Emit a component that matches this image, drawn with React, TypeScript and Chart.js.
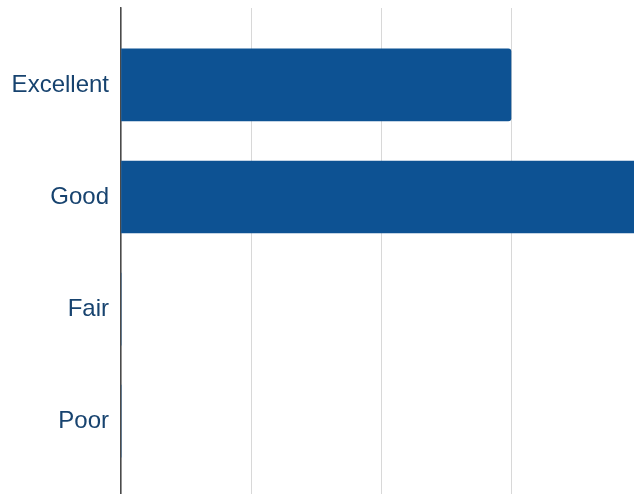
import React, { useEffect, useRef } from "react";
import { Chart, registerables } from "chart.js";

Chart.register(...registerables);

const categories: string[] = ["Excellent", "Good", "Fair", "Poor"];
const values: number[] = [3, 4, 0, 0];
const xTicks: number[] = [0, 1, 2, 3, 4];

export default function App() {
  const ref = useRef<HTMLCanvasElement | null>(null);

  useEffect(() => {
    document.body.style.margin = "0";
    if (!ref.current) return;
    const chart = new Chart(ref.current, {
      type: "bar",
      data: {
        datasets: [
          {
            data: categories.map((c, i) => ({ x: values[i], y: i })),
            backgroundColor: "#0d5293",
            borderRadius: 3,
            borderSkipped: "start",
            barThickness: 72,
          },
        ],
      },
      options: {
        indexAxis: "y",
        animation: false,
        responsive: true,
        maintainAspectRatio: false,
        layout: { padding: { top: 8, left: 0, right: 0, bottom: 0 } },
        plugins: { legend: { display: false }, tooltip: { enabled: false } },
        scales: {
          x: {
            type: "linear",
            min: xTicks[0],
            max: xTicks[xTicks.length - 1],
            afterBuildTicks: (scale: any) => {
              scale.ticks = xTicks.map((v) => ({ value: v }));
            },
            afterFit: (scale: any) => {
              scale.paddingLeft = 0;
              scale.paddingRight = 0;
            },
            ticks: { display: false },
            border: { display: false },
            grid: { color: "#d8d8d8", lineWidth: 1, drawTicks: false },
          },
          y: {
            type: "linear",
            reverse: true,
            offset: false,
            min: -0.686,
            max: 4.06,
            afterFit: (scale: any) => {
              scale.width = 121;
              scale.paddingTop = 0;
              scale.paddingBottom = 0;
            },
            afterBuildTicks: (scale: any) => {
              scale.ticks = categories.map((_, i) => ({ value: i }));
            },
            ticks: {
              padding: 4,
              color: "#17436f",
              font: { family: "'Liberation Sans', Arial, sans-serif", size: 24 },
              callback: (v: any) => categories[Number(v)] ?? "",
            },
            grid: { display: false, offset: false },
            border: { display: true, color: "#4a4a4a", width: 1.5 },
          },
        },
      },
    });
    return () => chart.destroy();
  }, []);

  return (
    <div
      style={{
        position: "fixed",
        left: 0,
        top: 0,
        width: 634,
        height: 494,
        overflow: "hidden",
        background: "#fff",
      }}
    >
      <div style={{ position: "relative", width: 641, height: 540 }}>
        <canvas ref={ref} />
      </div>
    </div>
  );
}
